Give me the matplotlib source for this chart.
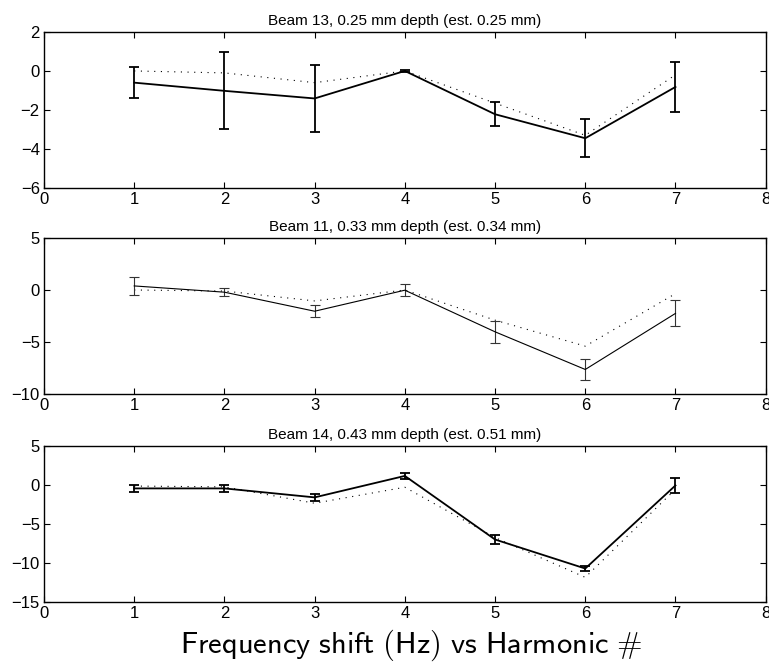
import numpy as np
import matplotlib
matplotlib.use("Agg")
import matplotlib.pyplot as plt
from matplotlib import font_manager

# pick a narrow sans if one is there
names = {f.name for f in font_manager.fontManager.ttflist}
base_font = 'Liberation Sans Narrow' if 'Liberation Sans Narrow' in names else 'Liberation Sans'
plt.rcParams['font.family'] = [base_font, 'DejaVu Sans']
plt.rcParams['mathtext.fontset'] = 'cm'

harmonic = [1, 2, 3, 4, 5, 6, 7]

titles = [
    "Beam 13, 0.25 mm depth (est. 0.25 mm)",
    "Beam 11, 0.33 mm depth (est. 0.34 mm)",
    "Beam 14, 0.43 mm depth (est. 0.51 mm)",
]

# measured shift (solid) with error, and estimate (dotted)
beam13_meas = [-0.6, -1.02, -1.41, 0.0, -2.22, -3.45, -0.82]
beam13_err = [0.78, 1.97, 1.72, 0.03, 0.61, 0.98, 1.30]
beam13_est = [0.0, -0.1, -0.6, 0.0, -1.65, -3.3, -0.2]

beam11_meas = [0.39, -0.21, -2.04, -0.02, -4.02, -7.64, -2.25]
beam11_err = [0.84, 0.37, 0.56, 0.57, 1.04, 1.01, 1.25]
beam11_est = [0.0, -0.1, -1.05, 0.0, -2.9, -5.4, -0.35]

beam14_meas = [-0.4, -0.4, -1.55, 1.2, -6.95, -10.67, -0.02]
beam14_err = [0.49, 0.49, 0.45, 0.38, 0.57, 0.35, 0.92]
beam14_est = [-0.1, -0.2, -2.3, -0.25, -6.7, -11.8, -0.5]

ylims = [(-6, 2), (-10, 5), (-15, 5)]
yticks = [[-6, -4, -2, 0, 2], [-10, -5, 0, 5], [-15, -10, -5, 0, 5]]
series = [
    (beam13_meas, beam13_err, beam13_est, 1.3, 'black'),
    (beam11_meas, beam11_err, beam11_est, 0.8, '#333333'),
    (beam14_meas, beam14_err, beam14_est, 1.3, 'black'),
]

fig = plt.figure(figsize=(7.69, 6.64), dpi=100)
bottoms = [0.7169, 0.4066, 0.0929]

for i in range(3):
    ax = fig.add_axes([0.0572, bottoms[i], 0.9385, 0.235])
    meas, err, est, lw, ecol = series[i]
    ax.plot(harmonic, est, color='black', lw=0.8, linestyle=(0, (1, 5)))
    ax.errorbar(harmonic, meas, yerr=err, color='black', lw=lw,
                ecolor=ecol, elinewidth=lw, capsize=3.6, capthick=lw)
    ax.set_xlim(0, 8)
    ax.set_ylim(*ylims[i])
    ax.set_xticks(range(0, 9))
    ax.set_yticks(yticks[i])
    ax.tick_params(direction='in', top=True, right=True, length=4.5,
                   width=0.8, labelsize=12, pad=3)
    for s in ax.spines.values():
        s.set_linewidth(1.0)
    ax.set_title(titles[i], fontsize=11, pad=5)

fig.text(0.535, 0.028, r'$\mathsf{Frequency\ shift\ (Hz)\ vs\ Harmonic\ \#}$',
         ha='center', va='center', fontsize=22)

fig.savefig('out.png', dpi=100)
